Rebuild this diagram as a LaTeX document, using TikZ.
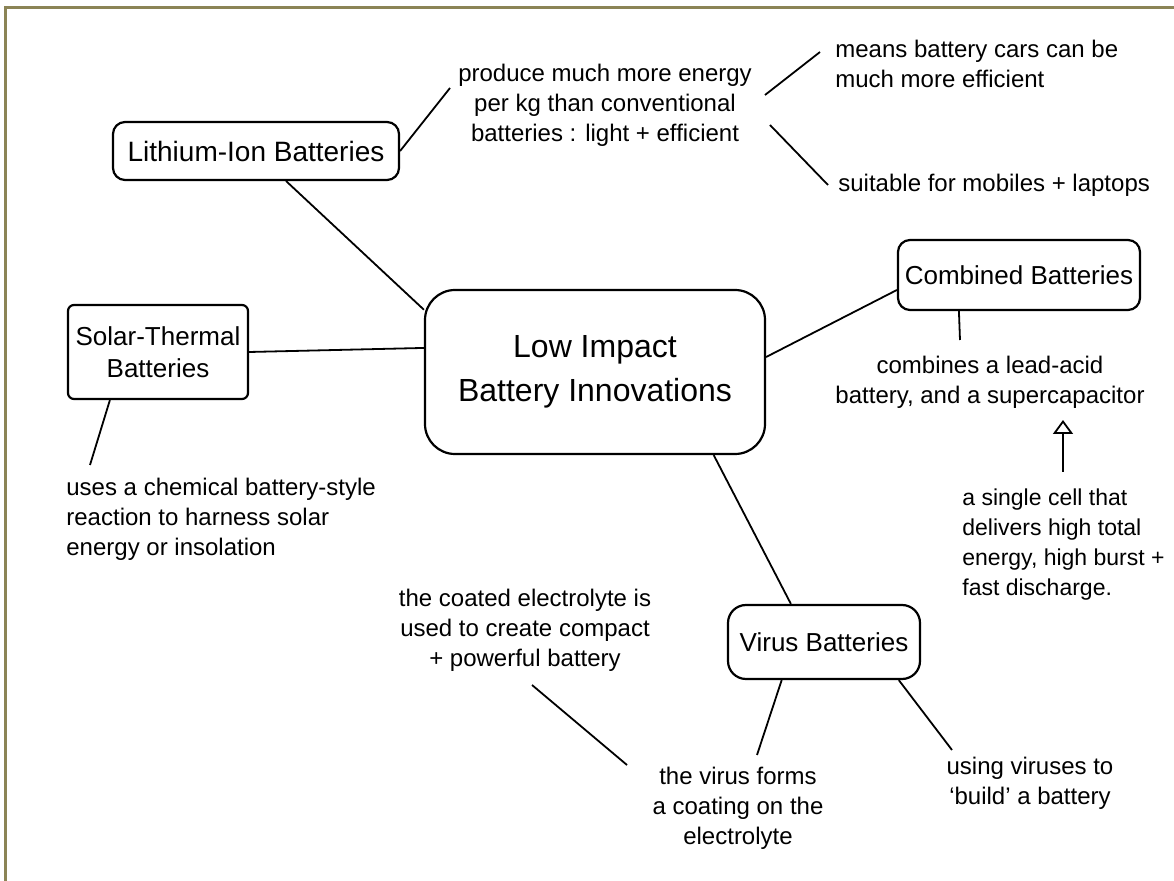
\documentclass[tikz,border=0pt]{standalone}
\usepackage{fontspec}
\setmainfont{Liberation Sans}
\usetikzlibrary{arrows.meta}
\definecolor{frameline}{HTML}{8B8456}

\begin{document}
\begin{tikzpicture}[x=0.5pt,y=-0.5pt,
  topic/.style={draw,line width=1.1pt,rounded corners=6pt,inner sep=0pt,align=center,font=\fontsize{13}{16}\selectfont},
  note/.style={inner sep=0pt,font=\fontsize{12}{15}\selectfont},
  link/.style={line width=0.9pt}]
  \useasboundingbox (0,0) rectangle (1174,881);
  % page frame, top and left edge only
  \draw[frameline,line width=1.5pt] (5,881) -- (5,8) -- (1174,8);

  % central topic and the four kinds of battery
  \node[topic,rounded corners=15pt,minimum width=170pt,minimum height=82pt,font=\fontsize{16}{22}\selectfont] (core) at (595,372) {Low Impact\\Battery Innovations};
  \node[topic,minimum width=143pt,minimum height=29pt,font=\fontsize{14}{16}\selectfont] (lion) at (256,151) {Lithium-Ion Batteries};
  \node[topic,rounded corners=3pt,minimum width=90pt,minimum height=47pt] (solar) at (158,352) {Solar-Thermal\\Batteries};
  \node[topic,minimum width=121pt,minimum height=35pt] (comb) at (1019,275) {Combined Batteries};
  \node[topic,rounded corners=9pt,minimum width=96pt,minimum height=37pt] (virus) at (824,642) {Virus Batteries};

  % notes
  \node[note,align=center] (prod) at (605,105) {produce much more energy\\per kg than conventional\\batteries : light + efficient};
  \node[note,align=left,anchor=west] (means) at (835,64) {means battery cars can be\\much more efficient};
  \node[note,anchor=west] (suit) at (838,185) {suitable for mobiles + laptops};
  \node[note,align=left,anchor=west] (uses) at (66,519) {uses a chemical battery-style\\reaction to harness solar\\energy or insolation};
  \node[note,align=center] (combines) at (990,382) {combines a lead-acid\\battery, and a supercapacitor};
  \node[note,align=left,anchor=west,font=\fontsize{11.5}{15}\selectfont] (single) at (962,545) {a single cell that\\delivers high total\\energy, high burst +\\fast discharge.};
  \node[note,align=center] (coated) at (525,630) {the coated electrolyte is\\used to create compact\\+ powerful battery};
  \node[note,align=center] (forms) at (738,808) {the virus forms\\a coating on the\\electrolyte};
  \node[note,align=center] (using) at (1030,783) {using viruses to\\`build' a battery};

  % loose ends of the connectors, next to the notes
  \coordinate (pA) at (450,88);
  \coordinate (mA1) at (765,95);  \coordinate (mA2) at (820,52);
  \coordinate (sA1) at (770,125); \coordinate (sA2) at (828,185);
  \coordinate (uA) at (90,465);
  \coordinate (cA) at (960,340);
  \coordinate (aB) at (1063,472); \coordinate (aT) at (1063,420);
  \coordinate (fA) at (757,755);
  \coordinate (gA) at (952,750);
  \coordinate (kA1) at (532,685); \coordinate (kA2) at (627,765);

  \foreach \a/\b in {lion.east/pA,lion.-45/core.160,solar.east/core.172,solar.-135/uA,
                     core.5/comb.-173,comb.-149/cA,core.-35/virus.131,virus.-138/fA,virus.-27/gA,
                     mA1/mA2,sA1/sA2,kA1/kA2}
    \draw[link] (\a) -- (\b);
  \draw[link,-{Triangle[open,length=7pt,width=10pt]}] (aB) -- (aT);
\end{tikzpicture}
\end{document}
